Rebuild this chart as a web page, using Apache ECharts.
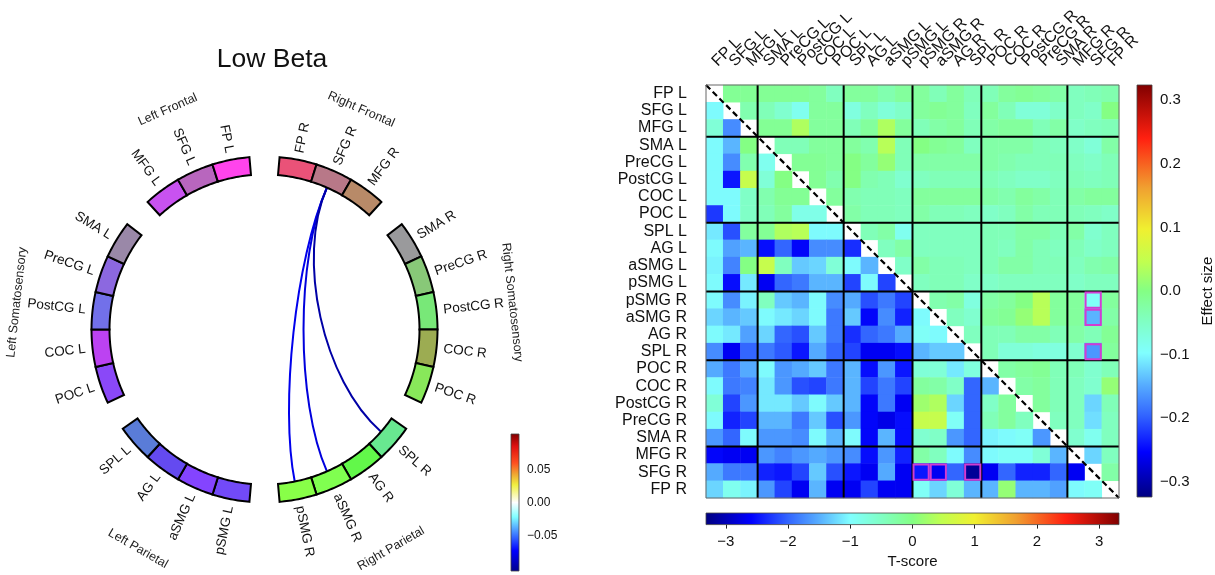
<!DOCTYPE html>
<html><head><meta charset="utf-8">
<script src="https://cdn.jsdelivr.net/npm/echarts@6/dist/echarts.min.js"></script>
<style>html,body{margin:0;padding:0;background:#fff}#chart{width:1215px;height:575px}</style>
</head><body><div id="chart"></div>
<script>
// ---------------- DATA ----------------
const regions = ['FP L','SFG L','MFG L','SMA L','PreCG L','PostCG L','COC L','POC L','SPL L','AG L','aSMG L','pSMG L',
  'pSMG R','aSMG R','AG R','SPL R','POC R','COC R','PostCG R','PreCG R','SMA R','MFG R','SFG R','FP R'];

const circleGroups = [
  {name:'Right Frontal', members:['FP R','SFG R','MFG R']},
  {name:'Right Somatosensory', members:['SMA R','PreCG R','PostCG R','COC R','POC R']},
  {name:'Right Parietal', members:['SPL R','AG R','aSMG R','pSMG R']},
  {name:'Left Parietal', members:['pSMG L','aSMG L','AG L','SPL L']},
  {name:'Left Somatosensory', members:['POC L','COC L','PostCG L','PreCG L','SMA L']},
  {name:'Left Frontal', members:['MFG L','SFG L','FP L']}
];

const nodeColors = {
  'FP L':'#FF44EC','SFG L':'#B866BE','MFG L':'#C852F0','SMA L':'#9A88A8','PreCG L':'#8C68E0','PostCG L':'#7270EA',
  'COC L':'#BC42F2','POC L':'#8A48F8','SPL L':'#5A7CD8','AG L':'#644AF0','aSMG L':'#8444FF','pSMG L':'#724AF8',
  'pSMG R':'#88FF48','aSMG R':'#80FF50','AG R':'#62F84A','SPL R':'#68E890','POC R':'#88E85A','COC R':'#9CAC52',
  'PostCG R':'#78E878','PreCG R':'#88C878','SMA R':'#9A9A9C','MFG R':'#B88A68','SFG R':'#B87888','FP R':'#EA5278'
};

const matrixGroupSizes = [3,5,4,4,5,3];

// lower triangle: T-score (row i, columns 0..i-1)
const tScoreLower = [
  [],
  [-1.0],
  [-0.66,-1.73],
  [-1.0,-1.46,0.0],
  [-1.0,-1.73,-0.33,-0.86],
  [-1.0,-2.46,0.53,-0.66,0.0],
  [-1.0,-1.0,-0.53,-0.33,-0.13,-0.13],
  [-2.26,-1.0,-0.53,-0.4,-0.2,-0.8,-0.8],
  [-1.13,-2.12,-0.2,-0.13,0.33,0.4,-1.0,-1.0],
  [-1.0,-1.59,-1.46,-2.52,-1.99,-2.59,-1.73,-1.73,-2.32],
  [-1.06,-1.79,0.0,0.53,-0.46,-1.33,-1.26,-0.66,-1.0,-1.46],
  [-1.0,-2.52,-1.13,-2.66,-1.99,-1.86,-1.46,-1.46,-2.19,-1.0,-2.19],
  [-1.0,-1.73,-1.06,-0.46,-1.33,-1.46,-1.0,-1.73,-1.53,-2.12,-1.86,-2.19],
  [-1.26,-1.46,-1.33,-1.0,-1.13,-1.26,-1.0,-1.86,-1.33,-2.59,-1.73,-2.39,-1.0],
  [-1.0,-1.13,-1.59,-1.26,-1.99,-2.12,-1.33,-1.86,-2.32,-1.99,-1.86,-1.53,-0.93,-1.0],
  [-1.73,-2.66,-1.99,-1.86,-2.06,-2.46,-1.53,-1.99,-2.19,-2.66,-2.66,-2.52,-1.46,-1.33,-1.33],
  [-1.53,-1.86,-1.53,-1.0,-1.66,-1.53,-1.33,-1.86,-1.46,-2.52,-1.66,-2.46,-0.66,-0.66,-1.13,-0.73],
  [-1.0,-1.86,-1.79,-1.13,-1.66,-2.12,-2.19,-1.86,-1.46,-2.19,-1.86,-2.19,-0.2,-0.27,-0.53,-1.99,-1.46],
  [-0.66,-2.19,-1.66,-1.13,-1.13,-1.33,-1.0,-1.33,-1.46,-2.59,-1.86,-2.66,0.2,0.33,-1.26,-1.99,-0.53,-0.2],
  [-1.0,-2.39,-2.19,-1.46,-1.46,-1.86,-1.33,-2.12,-1.66,-2.59,-2.72,-2.52,0.53,0.53,-0.93,-1.99,-0.4,-0.2,-0.46],
  [-1.66,-1.99,-1.0,-1.66,-1.66,-1.73,-1.0,-1.46,-1.0,-2.59,-1.46,-2.52,-0.6,-0.53,-1.66,-1.99,-1.06,-1.0,-0.93,-1.66],
  [-2.59,-2.66,-2.66,-1.66,-1.79,-1.66,-1.53,-1.66,-1.73,-2.52,-1.66,-2.39,-0.27,-0.46,-1.0,-1.73,-1.0,-0.93,-0.93,-0.66,-1.46],
  [-1.53,-1.86,-1.86,-2.39,-2.46,-2.19,-1.33,-2.12,-2.46,-2.66,-1.53,-2.66,-2.46,-2.66,-1.99,-3.19,-2.66,-1.99,-2.39,-2.39,-1.99,-2.66],
  [-1.26,-0.86,-1.06,-1.66,-2.19,-2.66,-1.46,-2.66,-2.66,-2.19,-2.66,-2.66,-0.93,-1.26,-0.66,-1.46,-1.46,0.13,-1.46,-1.46,-1.59,-1.0,-0.93]
];

// upper triangle: effect size (row i, columns i+1..23)
const effectUpper = [
  [-0.013,-0.013,-0.013,-0.013,-0.013,-0.019,-0.045,-0.019,-0.019,-0.032,-0.019,-0.019,-0.039,-0.019,-0.039,-0.039,-0.019,-0.013,-0.019,-0.026,-0.045,-0.039,-0.032],
  [-0.032,-0.039,-0.058,-0.084,-0.019,-0.019,-0.071,-0.045,-0.065,-0.052,-0.019,-0.013,-0.019,-0.045,-0.019,-0.039,-0.065,-0.065,-0.052,-0.045,-0.052,0.0],
  [-0.013,-0.013,0.032,-0.019,-0.019,-0.039,-0.019,0.032,-0.019,-0.039,-0.026,-0.019,-0.039,-0.026,-0.019,-0.019,-0.039,-0.026,-0.052,-0.045,-0.039],
  [-0.039,-0.039,-0.019,-0.019,-0.019,-0.032,0.039,-0.039,0.0,-0.013,-0.019,-0.045,-0.026,-0.026,-0.026,-0.039,-0.045,-0.052,-0.065,-0.026],
  [-0.013,-0.013,-0.019,0.0,-0.019,0.013,-0.039,-0.026,-0.026,-0.026,-0.026,-0.026,-0.032,-0.039,-0.039,-0.039,-0.045,-0.052,-0.039],
  [-0.013,-0.032,0.0,-0.032,-0.039,-0.058,-0.045,-0.039,-0.039,-0.039,-0.039,-0.045,-0.052,-0.052,-0.045,-0.039,-0.045,-0.039],
  [-0.019,-0.032,-0.039,-0.039,-0.045,-0.019,-0.019,-0.019,-0.019,-0.026,-0.032,-0.019,-0.026,-0.039,-0.026,-0.019,-0.019],
  [-0.026,-0.039,-0.039,-0.045,-0.026,-0.039,-0.039,-0.045,-0.052,-0.045,-0.026,-0.039,-0.039,-0.039,-0.045,-0.052],
  [-0.039,-0.026,-0.084,-0.045,-0.045,-0.045,-0.045,-0.039,-0.039,-0.026,-0.026,-0.039,-0.026,-0.058,-0.045],
  [-0.045,-0.026,-0.045,-0.045,-0.045,-0.045,-0.039,-0.045,-0.026,-0.039,-0.045,-0.039,-0.052,-0.045],
  [-0.052,-0.026,-0.039,-0.039,-0.045,-0.039,-0.026,-0.026,-0.039,-0.039,-0.045,-0.032,-0.026],
  [-0.045,-0.039,-0.039,-0.052,-0.052,-0.045,-0.045,-0.045,-0.045,-0.052,-0.045,-0.045],
  [-0.032,-0.026,-0.071,-0.026,-0.019,0.0,0.039,-0.019,-0.019,-0.091,-0.019],
  [-0.045,-0.058,-0.019,-0.013,0.013,0.039,-0.019,-0.019,-0.143,-0.026],
  [-0.045,-0.039,-0.039,-0.026,-0.026,-0.039,-0.026,-0.039,-0.013],
  [-0.039,-0.065,-0.065,-0.071,-0.071,-0.058,-0.162,-0.019],
  [-0.026,-0.019,-0.013,-0.039,-0.039,-0.058,-0.039],
  [-0.026,-0.019,-0.039,-0.045,-0.058,0.013],
  [-0.019,-0.039,-0.045,-0.123,-0.039],
  [-0.045,-0.045,-0.117,-0.045],
  [-0.058,-0.084,-0.045],
  [-0.123,-0.045],
  [-0.026],
  []
];

// significant cells [row, col] in the lower triangle (mirrored in the upper)
const sigPairs = [[22,12],[22,13],[22,15]];

// chords of the circle plot
const chords = [
  {source:'SFG R', target:'pSMG R', value:-0.078},
  {source:'SFG R', target:'aSMG R', value:-0.082},
  {source:'SFG R', target:'SPL R', value:-0.097}
];

const effectRange = [-0.324, 0.324];
const effectTicks = [-0.3,-0.2,-0.1,0.0,0.1,0.2,0.3];
const tRange = [-3.32, 3.32];
const tTicks = [-3,-2,-1,0,1,2,3];
const chordRange = [-0.104, 0.104];
const chordTicks = [-0.05,0.0,0.05];

// ---------------- COLOUR MAPS ----------------
const heatStops = [[0,'#000080'],[0.11,'#0000FF'],[0.20,'#3366FF'],[0.27,'#55AAFF'],[0.35,'#80FFFF'],
  [0.43,'#80FFC0'],[0.50,'#84FF84'],[0.57,'#C0FF50'],[0.65,'#F0F030'],[0.75,'#F0A030'],[0.87,'#FF2010'],[1,'#800000']];
const chordStops = [[0,'#00008C'],[0.15,'#0000FF'],[0.273,'#4080FF'],[0.395,'#80FFFF'],[0.5,'#FFFFFF'],
  [0.627,'#F0F040'],[0.712,'#F0A030'],[0.785,'#FF5020'],[0.907,'#E01010'],[1,'#800000']];
function hex(h){return [parseInt(h.slice(1,3),16),parseInt(h.slice(3,5),16),parseInt(h.slice(5,7),16)];}
function sample(stops,x){
  x=Math.max(0,Math.min(1,x));
  for(let i=1;i<stops.length;i++){
    if(x<=stops[i][0]){
      const [x0,c0]=stops[i-1],[x1,c1]=stops[i];
      const t=(x-x0)/(x1-x0), a=hex(c0), b=hex(c1);
      return 'rgb('+a.map((v,k)=>Math.round(v+(b[k]-v)*t)).join(',')+')';
    }
  }
  return stops[stops.length-1][1];
}
const heatColors = Array.from({length:49},(_,i)=>sample(heatStops,i/48));
function vGrad(stops){return {type:'linear',x:0,y:0,x2:0,y2:1,colorStops:stops.map(([x,c])=>({offset:1-x,color:c})).reverse()};}
function hGrad(stops){return {type:'linear',x:0,y:0,x2:1,y2:0,colorStops:stops.map(([x,c])=>({offset:x,color:c}))};}
const minus = s => s.replace('-','\u2212');

// ---------------- CIRCLE LAYOUT ----------------
const FONT = '"Liberation Sans", Arial, sans-serif';
const GAP = 10;
const SEG = (360 - circleGroups.length*GAP)/regions.length;
const R_OUT = 173, R_IN = 155;
const nodeAngle = {}, groupAngle = [], circleOrder = [];
(function(){
  let a = GAP/2;
  circleGroups.forEach(g=>{
    const g0=a;
    g.members.forEach(m=>{nodeAngle[m]=[a,a+SEG]; circleOrder.push(m); a+=SEG;});
    groupAngle.push([g0,a]); a+=GAP;
  });
})();
const midAngle = n => (nodeAngle[n][0]+nodeAngle[n][1])/2;

function renderArc(params, api){
  const name = circleOrder[params.dataIndex];
  const [a0,a1] = nodeAngle[name];
  const pts=[], N=16;
  for(let s=0;s<=N;s++) pts.push(api.coord([R_OUT, a0+(a1-a0)*s/N]));
  for(let s=N;s>=0;s--) pts.push(api.coord([R_IN, a0+(a1-a0)*s/N]));
  const mid=(a0+a1)/2, right = mid<180;
  const p = api.coord([R_OUT+7, mid]);
  const rot = (right ? 90-mid : 270-mid)*Math.PI/180;
  return {type:'group', children:[
    {type:'polygon', shape:{points:pts}, style:{fill:nodeColors[name], stroke:'#000', lineWidth:2}},
    {type:'text', x:p[0], y:p[1], rotation:rot,
     style:{text:name, align:right?'left':'right', verticalAlign:'middle', font:'13.5px '+FONT, fill:'#111'}}
  ]};
}
function renderGroupLabel(params, api){
  const g = circleGroups[params.dataIndex];
  const [a0,a1] = groupAngle[params.dataIndex];
  const mid=(a0+a1)/2;
  const cs = Math.cos(mid*Math.PI/180);
  const r = 250 - 7*cs - 4*cs*cs;
  const p = api.coord([r, mid]);
  let rotDeg = -mid;
  if(mid>90 && mid<270) rotDeg = 180-mid;
  return {type:'text', x:p[0], y:p[1], rotation:rotDeg*Math.PI/180,
    style:{text:g.name, align:'center', verticalAlign:'middle', font:'12.5px '+FONT, fill:'#222'}};
}
function renderChord(params, api){
  const c = chords[params.dataIndex];
  const ai = midAngle(c.source), aj = midAngle(c.target);
  const p1=api.coord([R_IN,ai]), c1=api.coord([R_IN*0.5,ai]), c2=api.coord([R_IN*0.5,aj]), p2=api.coord([R_IN,aj]);
  const x = (c.value-chordRange[0])/(chordRange[1]-chordRange[0]);
  return {type:'bezierCurve', shape:{x1:p1[0],y1:p1[1],cpx1:c1[0],cpy1:c1[1],cpx2:c2[0],cpy2:c2[1],x2:p2[0],y2:p2[1]},
    style:{stroke:sample(chordStops,x), lineWidth:2, fill:null}};
}

// ---------------- MATRIX ----------------
const lowerData=[], upperData=[];
tScoreLower.forEach((row,i)=>row.forEach((v,j)=>lowerData.push([j,i,v])));
effectUpper.forEach((row,i)=>row.forEach((v,k)=>upperData.push([i+1+k,i,v])));
const boundaries=[]; matrixGroupSizes.reduce((s,v)=>{s+=v; boundaries.push(s); return s;},0); boundaries.pop();

function renderOverlay(params, api){
  const n = regions.length;
  const sz = api.size([1,1]); const w=Math.abs(sz[0]), h=Math.abs(sz[1]);
  const ex = b => b<n ? api.coord([b,0])[0]-w/2 : api.coord([n-1,0])[0]+w/2;
  const ey = b => b<n ? api.coord([0,b])[1]-h/2 : api.coord([0,n-1])[1]+h/2;
  const L=ex(0),R=ex(n),T=ey(0),B=ey(n);
  const ch=[];
  boundaries.forEach(b=>{
    ch.push({type:'line', shape:{x1:ex(b),y1:T,x2:ex(b),y2:B}, style:{stroke:'#000',lineWidth:2}});
    ch.push({type:'line', shape:{x1:L,y1:ey(b),x2:R,y2:ey(b)}, style:{stroke:'#000',lineWidth:2}});
  });
  ch.push({type:'line', shape:{x1:L,y1:T,x2:R,y2:B}, style:{stroke:'#000',lineWidth:2.2,lineDash:[6,3.5]}});
  const boxes = sigPairs.concat(sigPairs.map(([r,c])=>[c,r]));
  boxes.forEach(([r,c])=>{
    ch.push({type:'rect', shape:{x:ex(c)+1,y:ey(r)+1,width:w-2,height:h-2}, style:{fill:null,stroke:'#D23CD2',lineWidth:2}});
  });
  ch.push({type:'rect', shape:{x:L,y:T,width:R-L,height:B-T}, style:{fill:null,stroke:'#666',lineWidth:1}});
  return {type:'group', children:ch};
}
// rotated column labels above the matrix
function renderColLabel(params, api){
  const i = params.dataIndex;
  const c = api.coord([i,0]); const h = Math.abs(api.size([1,1])[1]);
  return {type:'text', x:c[0], y:c[1]-h/2-21, rotation:Math.PI/4,
    style:{text:regions[i], align:'left', verticalAlign:'middle', font:'16px '+FONT, fill:'#111'}};
}
function barRenderer(grad, x0v, y0v, x1v, y1v){
  return function(params, api){
    const a=api.coord([x0v,y0v]), b=api.coord([x1v,y1v]);
    return {type:'rect', shape:{x:Math.min(a[0],b[0]),y:Math.min(a[1],b[1]),width:Math.abs(b[0]-a[0]),height:Math.abs(b[1]-a[1])},
      style:{fill:grad, stroke:'#444', lineWidth:0.8}};
  };
}

const hidden = {axisLine:{show:false},axisTick:{show:false},axisLabel:{show:false},splitLine:{show:false}};
const txt = {color:'#111', fontFamily:FONT};

const option = {
  animation:false,
  backgroundColor:'#fff',
  title:{text:'Low Beta', left:267, top:41, textAlign:'center', textStyle:{fontSize:26.5, fontWeight:'normal', color:'#111', fontFamily:FONT}},
  polar:{center:[264.5,329.5], radius:260},
  angleAxis:Object.assign({type:'value', min:0, max:360, startAngle:90, clockwise:true}, hidden),
  radiusAxis:Object.assign({type:'value', min:0, max:260}, hidden),
  grid:[
    {left:706, top:85, width:413, height:413, outerBoundsMode:'none'},
    {left:1137, top:85, width:15, height:412, outerBoundsMode:'none'},
    {left:706, top:513, width:413, height:11.6, outerBoundsMode:'none'},
    {left:511, top:434, width:8, height:137, outerBoundsMode:'none'}
  ],
  xAxis:[
    Object.assign({gridIndex:0, type:'category', data:regions, position:'top'}, hidden),
    Object.assign({gridIndex:1, type:'value', min:0, max:1}, hidden),
    {gridIndex:2, type:'value', min:tRange[0], max:tRange[1], position:'bottom', axisLine:{show:false}, splitLine:{show:false},
     axisTick:{show:true, customValues:tTicks, length:4, lineStyle:{color:'#222'}},
     axisLabel:Object.assign({customValues:tTicks, fontSize:15, margin:10, formatter:v=>minus(String(v))}, txt),
     name:'T-score', nameLocation:'middle', nameGap:30, nameTextStyle:Object.assign({fontSize:15}, txt)},
    Object.assign({gridIndex:3, type:'value', min:0, max:1}, hidden)
  ],
  yAxis:[
    {gridIndex:0, type:'category', data:regions, inverse:true, axisLine:{show:false}, axisTick:{show:false}, splitLine:{show:false},
     axisLabel:Object.assign({interval:0, fontSize:16, margin:19}, txt)},
    {gridIndex:1, type:'value', min:effectRange[0], max:effectRange[1], position:'right', axisLine:{show:false}, splitLine:{show:false},
     axisTick:{show:true, customValues:effectTicks, length:4, lineStyle:{color:'#222'}},
     axisLabel:Object.assign({customValues:effectTicks, fontSize:15, margin:8, formatter:v=>minus(v.toFixed(1))}, txt),
     name:'Effect size', nameLocation:'middle', nameRotate:90, nameGap:48, nameTextStyle:Object.assign({fontSize:15}, txt)},
    Object.assign({gridIndex:2, type:'value', min:0, max:1}, hidden),
    {gridIndex:3, type:'value', min:chordRange[0], max:chordRange[1], position:'right', axisLine:{show:false}, splitLine:{show:false},
     axisTick:{show:true, customValues:chordTicks, length:4, lineStyle:{color:'#222'}},
     axisLabel:Object.assign({customValues:chordTicks, fontSize:12, margin:8, formatter:v=>minus(v.toFixed(2))}, txt)}
  ],
  visualMap:[
    {type:'continuous', show:false, seriesIndex:3, dimension:2, min:tRange[0], max:tRange[1], inRange:{color:heatColors}},
    {type:'continuous', show:false, seriesIndex:4, dimension:2, min:effectRange[0], max:effectRange[1], inRange:{color:heatColors}}
  ],
  series:[
    {type:'custom', coordinateSystem:'polar', data:circleOrder.map((n,k)=>[0,k]), renderItem:renderArc, silent:true, z:3},
    {type:'custom', coordinateSystem:'polar', data:circleGroups.map((g,k)=>[0,k]), renderItem:renderGroupLabel, silent:true, z:3},
    {type:'custom', coordinateSystem:'polar', data:chords.map((c,k)=>[0,k]), renderItem:renderChord, silent:true, z:2},
    {type:'heatmap', xAxisIndex:0, yAxisIndex:0, data:lowerData, silent:true, emphasis:{disabled:true}, itemStyle:{borderWidth:0}},
    {type:'heatmap', xAxisIndex:0, yAxisIndex:0, data:upperData, silent:true, emphasis:{disabled:true}, itemStyle:{borderWidth:0}},
    {type:'custom', xAxisIndex:0, yAxisIndex:0, data:[[0,0]], renderItem:renderOverlay, silent:true, z:5},
    {type:'custom', xAxisIndex:1, yAxisIndex:1, data:[[0,0]], renderItem:barRenderer(vGrad(heatStops),0,effectRange[1],1,effectRange[0]), silent:true},
    {type:'custom', xAxisIndex:2, yAxisIndex:2, data:[[0,0]], renderItem:barRenderer(hGrad(heatStops),tRange[0],1,tRange[1],0), silent:true},
    {type:'custom', xAxisIndex:3, yAxisIndex:3, data:[[0,0]], renderItem:barRenderer(vGrad(chordStops),0,chordRange[1],1,chordRange[0]), silent:true},
    {type:'custom', xAxisIndex:0, yAxisIndex:0, data:regions.map((n,i)=>[i,0]), renderItem:renderColLabel, silent:true, clip:false, z:5}
  ]
};
const chart = echarts.init(document.getElementById('chart'));
chart.setOption(option);
</script></body></html>
